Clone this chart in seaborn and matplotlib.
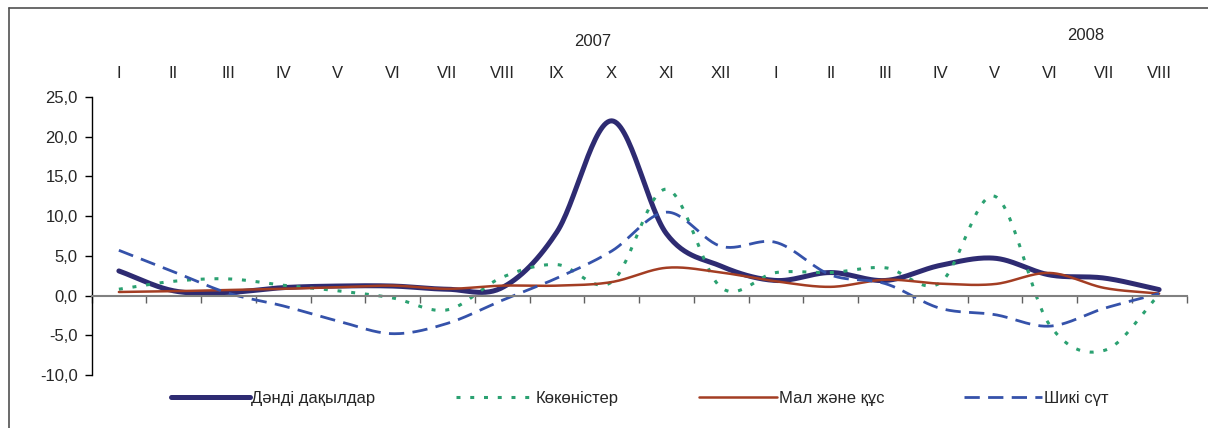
import numpy as np
import matplotlib
matplotlib.use("Agg")
import matplotlib.pyplot as plt
import matplotlib.transforms as mtransforms
from matplotlib.lines import Line2D
import seaborn as sns

# Month labels (2007: I..XII, 2008: I..VIII)
months = ["I", "II", "III", "IV", "V", "VI", "VII", "VIII", "IX", "X", "XI", "XII",
          "I", "II", "III", "IV", "V", "VI", "VII", "VIII"]

grain = [3.1, 0.6, 0.4, 1.0, 1.2, 1.2, 0.8, 1.0, 8.0, 22.0, 7.8, 3.7,
         1.9, 2.9, 1.9, 3.8, 4.7, 2.6, 2.2, 0.75]
vegetables = [0.8, 1.8, 2.1, 1.3, 0.6, -0.3, -1.8, 2.3, 3.9, 1.7, 13.4, 1.0,
              2.9, 2.9, 3.5, 1.6, 12.5, -3.7, -6.9, 0.1]
livestock = [0.45, 0.55, 0.7, 0.85, 1.05, 1.25, 0.85, 1.25, 1.25, 1.7, 3.5, 2.9,
             1.8, 1.1, 2.0, 1.5, 1.45, 2.85, 0.96, 0.25]
raw_milk = [5.7, 3.0, 0.3, -1.3, -3.2, -4.8, -3.5, -0.6, 2.2, 5.6, 10.5, 6.2,
            6.7, 2.6, 1.5, -1.6, -2.4, -3.85, -1.6, 0.25]

series_names = ["Дәнді дақылдар", "Көкөністер", "Мал және құс", "Шикі сүт"]
years = ["2007", "2008"]


def smooth_curve(y, steps=30):
    """Cubic Bezier smoothing through every point (Catmull-Rom style tangents)."""
    y = np.asarray(y, dtype=float)
    x = np.arange(len(y), dtype=float)
    xs, ys = [], []
    n = len(y)
    for i in range(n - 1):
        p0, p3 = y[i], y[i + 1]
        prev_y = y[i - 1] if i > 0 else y[i]
        next_y = y[i + 2] if i + 2 < n else y[i + 1]
        prev_x = x[i - 1] if i > 0 else x[i]
        next_x = x[i + 2] if i + 2 < n else x[i + 1]
        p1 = p0 + (p3 - prev_y) / 6.0 if i > 0 else p0 + (p3 - p0) / 3.0
        p2 = p3 - (next_y - p0) / 6.0 if i + 2 < n else p3 - (p3 - p0) / 3.0
        q0, q3 = x[i], x[i + 1]
        q1 = q0 + (q3 - prev_x) / 6.0 if i > 0 else q0 + (q3 - q0) / 3.0
        q2 = q3 - (next_x - q0) / 6.0 if i + 2 < n else q3 - (q3 - q0) / 3.0
        t = np.linspace(0, 1, steps, endpoint=(i == n - 2))
        a, b, c, d = (1 - t) ** 3, 3 * (1 - t) ** 2 * t, 3 * (1 - t) * t ** 2, t ** 3
        xs.append(a * q0 + b * q1 + c * q2 + d * q3)
        ys.append(a * p0 + b * p1 + c * p2 + d * p3)
    return np.concatenate(xs), np.concatenate(ys)


sns.set_style("white")
plt.rcParams["font.family"] = ["Liberation Sans", "DejaVu Sans"]
FS = 12
plt.rcParams["font.size"] = FS

fig = plt.figure(figsize=(12.08, 4.28), dpi=100)
ax = fig.add_axes([91.5 / 1208, 53 / 428, 1095 / 1208, 278 / 428])

styles = [
    dict(color="#2E2B72", lw=3.6, ls="-"),
    dict(color="#2BA171", lw=2.2, ls=(0, (1.3, 3.2))),
    dict(color="#A33D23", lw=1.8, ls="-"),
    dict(color="#3552AA", lw=2.0, ls=(0, (5.5, 3.0))),
]
data = [grain, vegetables, livestock, raw_milk]

for name, values, st in zip(series_names, data, styles):
    xs, ys = smooth_curve(values)
    sns.lineplot(x=xs, y=ys, ax=ax, sort=False, estimator=None,
                 color=st["color"], linewidth=st["lw"], label=name)
    line = ax.lines[-1]
    line.set_linestyle(st["ls"])
    line.set_dash_capstyle("butt")

ax.set_xlim(-0.5, len(months) - 0.5)
ax.set_ylim(-10, 25)

# y axis
yt = np.arange(-10, 26, 5)
ax.set_yticks(yt)
ax.set_yticklabels([f"{v:.1f}".replace(".", ",") for v in yt])
ax.tick_params(axis="y", direction="out", length=5, width=1, color="black",
               left=True, pad=5, labelsize=FS)

# x axis: month names on top, category boundary ticks on the zero line
ax.set_xticks(range(len(months)))
ax.set_xticklabels(months)
ax.set_xticks(np.arange(-0.5, len(months), 1), minor=True)
ax.tick_params(axis="x", which="major", bottom=False, top=False,
               labelbottom=False, labeltop=True, pad=8, labelsize=FS)
ax.tick_params(axis="x", which="minor", bottom=True, top=False, direction="out",
               length=5, width=1, color="#606060")

for s in ("top", "right"):
    ax.spines[s].set_visible(False)
ax.spines["left"].set_color("black")
ax.spines["left"].set_linewidth(1.0)
ax.spines["bottom"].set_position(("data", 0))
ax.spines["bottom"].set_color("#808080")
ax.spines["bottom"].set_linewidth(1.5)
ax.grid(False)

# year captions
blend = mtransforms.blended_transform_factory(ax.transData, fig.transFigure)
ax.text(8.65, 1 - 41 / 428, years[0], transform=blend, ha="center", va="center", fontsize=FS)
ax.text(17.65, 1 - 35 / 428, years[1], transform=blend, ha="center", va="center", fontsize=FS)

# legend below the plot
handles, labels = ax.get_legend_handles_labels()
if ax.get_legend() is not None:
    ax.get_legend().remove()
fig.legend(handles, labels, loc="center", bbox_to_anchor=(640 / 1208, 30 / 428),
           ncol=4, frameon=False, handlelength=4.7, handletextpad=0.1,
           columnspacing=4.8, fontsize=FS)

# outer frame (top and left edges)
fig.add_artist(Line2D([9 / 1208, 1.0], [1 - 8 / 428, 1 - 8 / 428],
                      transform=fig.transFigure, color="#505050", lw=1.2))
fig.add_artist(Line2D([9 / 1208, 9 / 1208], [0.0, 1 - 8 / 428],
                      transform=fig.transFigure, color="#505050", lw=1.2))

fig.savefig("out.png", dpi=100)
